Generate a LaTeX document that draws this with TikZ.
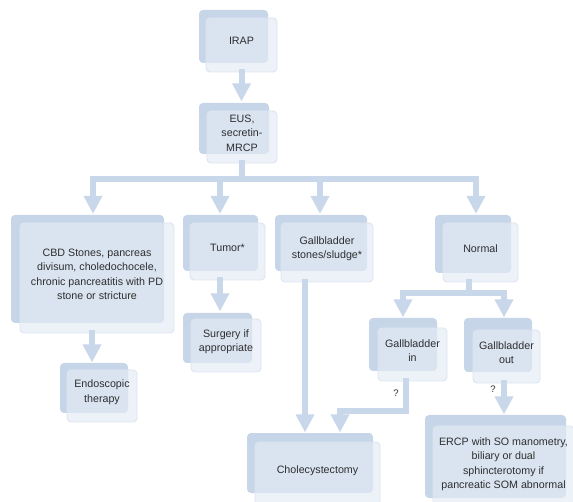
\documentclass[tikz,border=0pt]{standalone}
\usepackage{fontspec}
\setmainfont{Liberation Sans}
\usetikzlibrary{arrows.meta,fit}
\definecolor{backc}{HTML}{C6D5E7}
\definecolor{frontc}{HTML}{E4ECF6}
\definecolor{edgec}{HTML}{DCE5F0}
\definecolor{linec}{HTML}{C8D7E9}
\definecolor{txtc}{HTML}{2E2E2E}
\tikzset{
  backbox/.style={fill=backc, rounded corners=4pt, inner sep=0pt, outer sep=0pt, draw=none},
  frontbox/.style={fill=frontc, fill opacity=0.68, text opacity=1, draw=edgec, line width=0.9pt,
    rounded corners=4pt, inner sep=0pt, outer sep=0pt, align=center, text=txtc,
    font=\fontsize{10.7}{14.5}\selectfont},
  ln/.style={draw=linec, line width=6pt, line cap=rect},
  arr/.style={draw=linec, line width=6pt, line cap=rect,
    -{Triangle[length=17.5pt,width=19pt,line width=0pt]}},
  qlabel/.style={text=txtc, font=\fontsize{9.5}{11}\selectfont, inner sep=0pt}
}
\begin{document}
\begin{tikzpicture}[x=1pt,y=-1pt]
\useasboundingbox (0,0) rectangle (573,502);
\clip (0,0) rectangle (573,502);
\fill[white] (0,0) rectangle (573,502);

% boxes
\node[backbox, fit={(199,10)(268,63)}] (irapb) {};
\node[frontbox, fit={(206,18)(277,72)}] (irap) {IRAP};

\node[backbox, fit={(199,103)(269,154)}] (eusb) {};
\node[frontbox, fit={(207,111)(277,163)}] (eus) {EUS,\\secretin-\\MRCP};

\node[backbox, fit={(11,215)(164,323)}] (cbdb) {};
\node[frontbox, fit={(20,223)(174,333)}] (cbd) {CBD Stones, pancreas\\divisum, choledochocele,\\chronic pancreatitis with PD\\stone or stricture};

\node[backbox, fit={(183,215)(258,271)}] (tumb) {};
\node[frontbox, fit={(190,223)(265,280)}] (tum) {Tumor*};

\node[backbox, fit={(275,215)(367,271)}] (gbsb) {};
\node[frontbox, fit={(281,223)(373,282)}] (gbs) {Gallbladder\\stones/sludge*};

\node[backbox, fit={(435,215)(511,273)}] (norb) {};
\node[frontbox, fit={(443,223)(518,282)}] (nor) {Normal};

\node[backbox, fit={(183,313)(252,363)}] (surb) {};
\node[frontbox, fit={(191,319)(261,372)}] (sur) {Surgery if\\appropriate};

\node[backbox, fit={(60,363)(128,413)}] (endb) {};
\node[frontbox, fit={(67,370)(137,422)}] (endo) {Endoscopic\\therapy};

\node[backbox, fit={(369,318)(437,371)}] (gbib) {};
\node[frontbox, fit={(378,328)(447,381)}] (gbi) {Gallbladder\\in};

\node[backbox, fit={(464,318)(532,372)}] (gbob) {};
\node[frontbox, fit={(473,330)(540,383)}] (gbo) {Gallbladder\\out};

\node[backbox, fit={(247,433)(373,493)}] (chob) {};
\node[frontbox, fit={(255,442)(380,508)}] (cho) {Cholecystectomy};

\node[backbox, fit={(425,415)(566,498)}] (ercb) {};
\node[frontbox, fit={(433,426)(574,510)}] (erc) {ERCP with SO manometry,\\biliary or dual\\sphincterotomy if\\pancreatic SOM abnormal};

% coordinates
\coordinate (eusin) at (241.5,101);
\coordinate (bus0) at (242,179);
\coordinate (busL) at (93,179);
\coordinate (busT) at (220,179);
\coordinate (busG) at (320,179);
\coordinate (busR) at (476,179);
\coordinate (cbdin) at (93,213.5);
\coordinate (tumin) at (220,213.5);
\coordinate (gbsin) at (320,213.5);
\coordinate (norin) at (476,213.5);
\coordinate (nb0) at (469,293);
\coordinate (nbL) at (403,293);
\coordinate (nbR) at (504,293);
\coordinate (gbiin) at (403,317);
\coordinate (gboin) at (504,317);
\coordinate (endin) at (92,362);
\coordinate (surin) at (220,311);
\coordinate (gbiturn) at (406,411);
\coordinate (chol1) at (305,432);
\coordinate (chol2) at (340,432);
\coordinate (ercin) at (504,414);

% connectors
\draw[arr] (irap.south) -- (eusin);
\draw[ln] (bus0 |- eus.south) -- (bus0);
\draw[ln] (busL) -- (busR);
\draw[arr] (busL) -- (cbdin);
\draw[arr] (busT) -- (tumin);
\draw[arr] (busG) -- (gbsin);
\draw[arr] (busR) -- (norin);

\draw[ln] (nb0 |- nor.south) -- (nb0);
\draw[ln] (nbL) -- (nbR);
\draw[arr] (nbL) -- (gbiin);
\draw[arr] (nbR) -- (gboin);

\draw[arr] (endin |- cbd.south) -- (endin);
\draw[arr] (surin |- tum.south) -- (surin);
\draw[arr] (chol1 |- gbs.south) -- (chol1);
\draw[arr] (gbiturn |- gbi.south) -- (gbiturn) -| (chol2);
\draw[arr] (ercin |- gbo.south) -- (ercin);

\node[qlabel] (q1) at (396,393) {?};
\node[qlabel] (q2) at (493,389) {?};
\end{tikzpicture}
\end{document}
